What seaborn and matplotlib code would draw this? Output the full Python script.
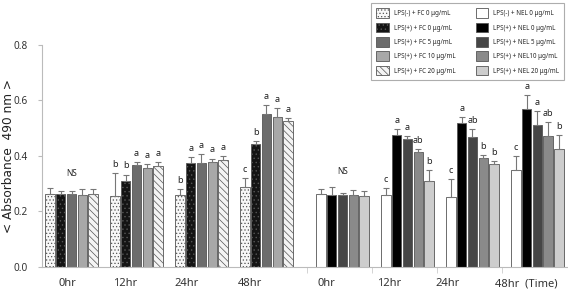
import numpy as np
import pandas as pd
import matplotlib
matplotlib.use('Agg')
import matplotlib.pyplot as plt
from matplotlib.patches import Patch
import seaborn as sns

# time points (x categories)
time_labels = ['0hr', '12hr', '24hr', '48hr']

# treatment names (hue)
fc_groups = ['LPS(-) + FC 0 μg/mL', 'LPS(+) + FC 0 μg/mL', 'LPS(+) + FC 5 μg/mL',
             'LPS(+) + FC 10 μg/mL', 'LPS(+) + FC 20 μg/mL']
nel_groups = ['LPS(-) + NEL 0 μg/mL', 'LPS(+) + NEL 0 μg/mL', 'LPS(+) + NEL 5 μg/mL',
              'LPS(+) + NEL10 μg/mL', 'LPS(+) + NEL 20 μg/mL']

# absorbance means, one row per time point
fc_mean = [[0.262, 0.262, 0.262, 0.260, 0.262],
           [0.255, 0.310, 0.367, 0.357, 0.364],
           [0.259, 0.375, 0.375, 0.379, 0.386],
           [0.289, 0.442, 0.550, 0.538, 0.525]]
fc_err = [[0.021, 0.011, 0.011, 0.020, 0.018],
          [0.084, 0.022, 0.011, 0.012, 0.012],
          [0.021, 0.021, 0.031, 0.011, 0.012],
          [0.031, 0.012, 0.033, 0.033, 0.011]]
fc_letters = [['', '', '', '', ''],
              ['b', 'b', 'a', 'a', 'a'],
              ['b', 'a', 'a', 'a', 'a'],
              ['c', 'b', 'a', 'a', 'a']]

nel_mean = [[0.261, 0.260, 0.258, 0.260, 0.255],
            [0.258, 0.476, 0.461, 0.414, 0.309],
            [0.253, 0.519, 0.466, 0.392, 0.372],
            [0.349, 0.567, 0.512, 0.471, 0.425]]
nel_err = [[0.018, 0.029, 0.008, 0.018, 0.019],
           [0.027, 0.019, 0.010, 0.010, 0.040],
           [0.062, 0.021, 0.029, 0.009, 0.008],
           [0.051, 0.051, 0.050, 0.051, 0.050]]
nel_letters = [['', '', '', '', ''],
               ['c', 'a', 'a', 'ab', 'b'],
               ['c', 'a', 'ab', 'b', 'b'],
               ['c', 'a', 'a', 'ab', 'b']]

# styles
fc_colors = ['#f7f7f7', '#141414', '#6c6c6c', '#a8a8a8', '#f4f4f4']
fc_hatch = ['.....', '....', '', '', '\\\\\\\\\\']
nel_colors = ['#ffffff', '#000000', '#464646', '#8a8a8a', '#cdcdcd']
edge = '#555555'

# layout: group centres on a numeric axis, NEL block shifted a bit
pos_fc = np.arange(4) * 1.0
pos_nel = np.arange(4) + 4.17


def long_table(mean, groups, pos):
    rows = []
    for i, p in enumerate(pos):
        for j, g in enumerate(groups):
            rows.append({'pos': p, 'treat': g, 'value': mean[i][j]})
    return pd.DataFrame(rows)


df_fc = long_table(fc_mean, fc_groups, pos_fc)
df_nel = long_table(nel_mean, nel_groups, pos_nel)

sns.set_style('white')
plt.rcParams['font.family'] = ['Noto Sans', 'DejaVu Sans']
plt.rcParams['hatch.linewidth'] = 0.5

fig = plt.figure(figsize=(5.68, 2.95), dpi=100)
ax = fig.add_axes([0.074, 0.095, 0.926, 0.754])

sns.barplot(data=df_fc, x='pos', y='value', hue='treat', hue_order=fc_groups,
            palette=fc_colors, native_scale=True, width=0.83, gap=0.12,
            errorbar=None, legend=False, saturation=1, ax=ax,
            edgecolor=edge, linewidth=0.6)
sns.barplot(data=df_nel, x='pos', y='value', hue='treat', hue_order=nel_groups,
            palette=nel_colors, native_scale=True, width=0.83, gap=0.12,
            errorbar=None, legend=False, saturation=1, ax=ax,
            edgecolor=edge, linewidth=0.6)

for k, cont in enumerate(ax.containers[:5]):
    for b in cont:
        b.set_hatch(fc_hatch[k])

# error bars and significance letters
blocks = [(ax.containers[:5], fc_err, fc_letters), (ax.containers[5:], nel_err, nel_letters)]
for conts, err, letters in blocks:
    for j, cont in enumerate(conts):
        for i, b in enumerate(cont):
            xc = b.get_x() + b.get_width() / 2
            h = b.get_height()
            ax.errorbar(xc, h, yerr=[[0], [err[i][j]]], fmt='none', ecolor='#777777',
                        elinewidth=0.8, capsize=2, capthick=0.8)
            if letters[i][j]:
                ax.annotate(letters[i][j], (xc, h + err[i][j]), xytext=(0, 3),
                            textcoords='offset points', ha='center', va='bottom',
                            fontsize=6.5, fontweight='bold', color='#222222')

# NS marks over the 0hr groups
for conts, err, mean, p in [(ax.containers[:5], fc_err, fc_mean, pos_fc[0]),
                            (ax.containers[5:], nel_err, nel_mean, pos_nel[0])]:
    top = max(m + e for m, e in zip(mean[0], err[0]))
    ax.annotate('NS', (p, top), xytext=(0, 11), textcoords='offset points',
                ha='center', va='center', fontsize=6, fontweight='bold', color='#222222')

ax.set_ylim(0, 0.8)
ax.set_xlim(-0.454, 7.64)
ax.set_yticks([0, 0.2, 0.4, 0.6, 0.8])
ax.set_yticklabels(['0.0', '0.2', '0.4', '0.6', '0.8'], fontsize=7.2, fontweight='bold',
                   color='#333333')

label_shift = [0.07, 0.18, 0.23, 0.25, 0.25, 0.29, 0.38, 0.17]
tick_pos = list(np.concatenate([pos_fc, pos_nel]) - np.array(label_shift))
tick_lab = time_labels[:3] + ['48hr'] + time_labels[:3] + ['48hr  (Time)']
ax.set_xticks(tick_pos)
ax.set_xticklabels(tick_lab, fontsize=8, fontweight='bold', color='#333333')
ax.tick_params(axis='x', length=0, pad=8)
ax.tick_params(axis='y', length=3, pad=7, color='#bbbbbb', left=True)
ax.set_xticks(pos_nel - 0.55, minor=True)
ax.tick_params(axis='x', which='minor', length=4, color='#cccccc', bottom=True)

ax.set_xlabel('')
ax.set_ylabel('< Absorbance  490 nm >', fontsize=8.7, color='#222222',
              family='DejaVu Sans')
ax.yaxis.set_label_coords(-0.051, 0.5)

sns.despine(ax=ax)
for s in ['left', 'bottom']:
    ax.spines[s].set_color('#bbbbbb')
    ax.spines[s].set_linewidth(0.8)

# legend box
handles = []
for k in range(5):
    handles.append(Patch(facecolor=fc_colors[k], edgecolor=edge, hatch=fc_hatch[k], linewidth=0.6))
for k in range(5):
    handles.append(Patch(facecolor=nel_colors[k], edgecolor=edge, linewidth=0.6))
leg = fig.legend(handles, fc_groups + nel_groups, ncol=2, loc='upper right',
                 bbox_to_anchor=(0.999, 0.999), prop={'size': 4.5, 'weight': 'bold'},
                 frameon=True, fancybox=False, handlelength=2.0, handleheight=2.0,
                 labelspacing=0.75, columnspacing=3.3, handletextpad=0.8,
                 borderpad=0.8)
leg.get_frame().set_edgecolor('#999999')
leg.get_frame().set_linewidth(0.8)

fig.savefig('out.png', dpi=100)
